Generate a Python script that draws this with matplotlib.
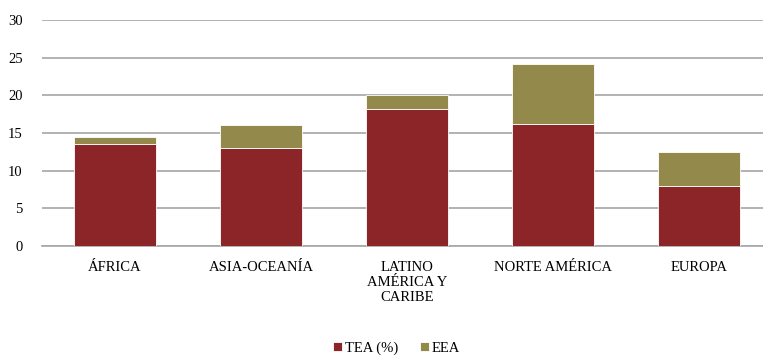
import matplotlib.pyplot as plt

regions = ["ÁFRICA", "ASIA-OCEANÍA", "LATINO\nAMÉRICA Y\nCARIBE", "NORTE AMÉRICA", "EUROPA"]
tea = [13.6, 13.0, 18.2, 16.2, 8.0]
eea = [0.8, 3.1, 1.8, 8.0, 4.5]

plt.rcParams['font.family'] = ['Liberation Serif', 'DejaVu Serif']

fig = plt.figure(figsize=(7.63, 3.56), dpi=100)
ax = fig.add_axes([0.055, 0.309, 0.957, 0.635])

x = range(len(regions))
ax.bar(x, tea, width=0.56, color='#8B2527', edgecolor='white', linewidth=0.6, label='TEA (%)', zorder=3)
ax.bar(x, eea, width=0.56, bottom=tea, color='#93894B', edgecolor='white', linewidth=0.6, label='EEA', zorder=3)

ax.set_ylim(0, 30)
ax.set_xlim(-0.5, 4.5)
ax.set_yticks(range(0, 31, 5))
ax.set_xticks(list(x))
ax.set_xticklabels(regions, fontsize=10.5, linespacing=1.2)
ax.tick_params(axis='y', labelsize=10.5, length=0, pad=14)
ax.tick_params(axis='x', length=0, pad=11)
ax.yaxis.grid(True, color='#a6a6a6', linewidth=1.2, zorder=0)
for s in ['top', 'right', 'left']:
    ax.spines[s].set_visible(False)
ax.spines['bottom'].set_color('#a6a6a6')
ax.spines['bottom'].set_linewidth(1.2)

fig.legend(loc='center', bbox_to_anchor=(0.52, 0.022), ncol=2, frameon=False,
           fontsize=10.5, handlelength=0.6, handleheight=0.6, handletextpad=0.2, columnspacing=1.5)

fig.savefig('out.png', dpi=100)
